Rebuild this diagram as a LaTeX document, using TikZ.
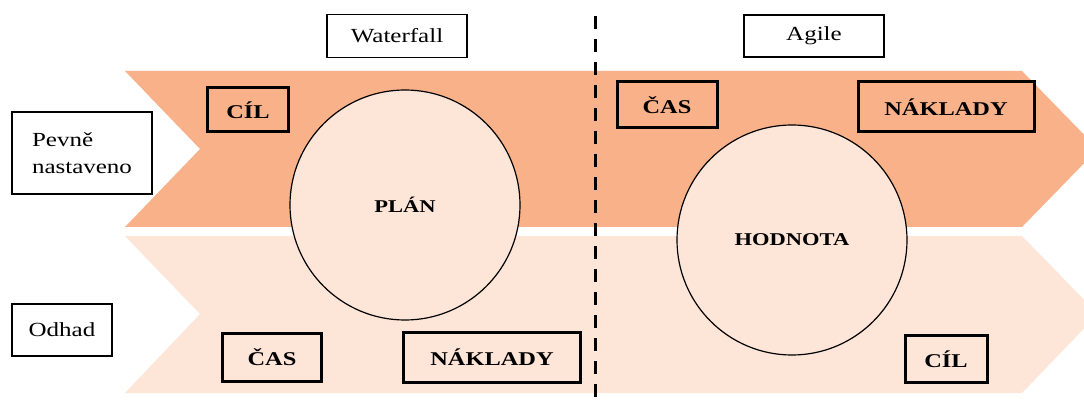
\documentclass[tikz,border=0pt]{standalone}
\usepackage{fontspec}
\setmainfont[FakeStretch=1.25]{Liberation Serif}
\definecolor{topband}{HTML}{F9B189}
\definecolor{botband}{HTML}{FDE5D8}
\begin{document}
\begin{tikzpicture}[x=1pt,y=-1pt,
  band/.style={draw=none},
  lab/.style={draw, line width=1.4pt, fill=white, inner sep=0pt, font=\fontsize{20}{27}\selectfont},
  kbox/.style={draw, line width=3pt, inner sep=0pt, font=\bfseries\fontsize{19.5}{23}\selectfont},
  bubble/.style={circle, draw, line width=1.2pt, fill=botband, minimum size=230pt, inner sep=0pt, font=\bfseries\fontsize{18}{22}\selectfont},
  divider/.style={line width=3pt, dash pattern=on 13pt off 10pt}]
\useasboundingbox (0,0) rectangle (1084,403);
\clip (0,0) rectangle (1084,403);
% bands
\fill[topband] (125,71) -- (1022,71) -- (1098,149) -- (1022,227) -- (125,227) -- (200,149) -- cycle;
\fill[botband] (125,236) -- (1022,236) -- (1098,314) -- (1022,393) -- (125,393) -- (200,314) -- cycle;
% circles
\node[bubble] (plan) at (405,205) {PLÁN};
\node[bubble] (hodnota) at (792,240) {HODNOTA};
% row labels
\node[lab, minimum width=140pt, minimum height=82pt, align=left] (pevne) at (82,153) {Pevně\\nastaveno};
\node[lab, minimum width=100pt, minimum height=52pt] (odhad) at (62,330) {Odhad};
% column labels
\node[lab, minimum width=140pt, minimum height=43pt] (waterfall) at (397,36) {Waterfall};
\node[lab, minimum width=140pt, minimum height=42pt] (agile) at (814,36) {Agile};
% bold boxes
\node[kbox, minimum width=81pt, minimum height=44pt] (cil1) at (248,110) {CÍL};
\node[kbox, minimum width=99pt, minimum height=48pt] (cas1) at (272,357) {ČAS};
\node[kbox, minimum width=177pt, minimum height=50pt] (nakl1) at (492,357) {NÁKLADY};
\node[kbox, minimum width=100pt, minimum height=46pt] (cas2) at (667,105) {ČAS};
\node[kbox, minimum width=176pt, minimum height=50pt] (nakl2) at (946,107) {NÁKLADY};
\node[kbox, minimum width=82pt, minimum height=47pt] (cil2) at (946,359) {CÍL};
% divider
\coordinate (dtop) at (595,16);
\coordinate (dbot) at (595,403);
\draw[divider] (dtop) -- (dbot);
\end{tikzpicture}
\end{document}
